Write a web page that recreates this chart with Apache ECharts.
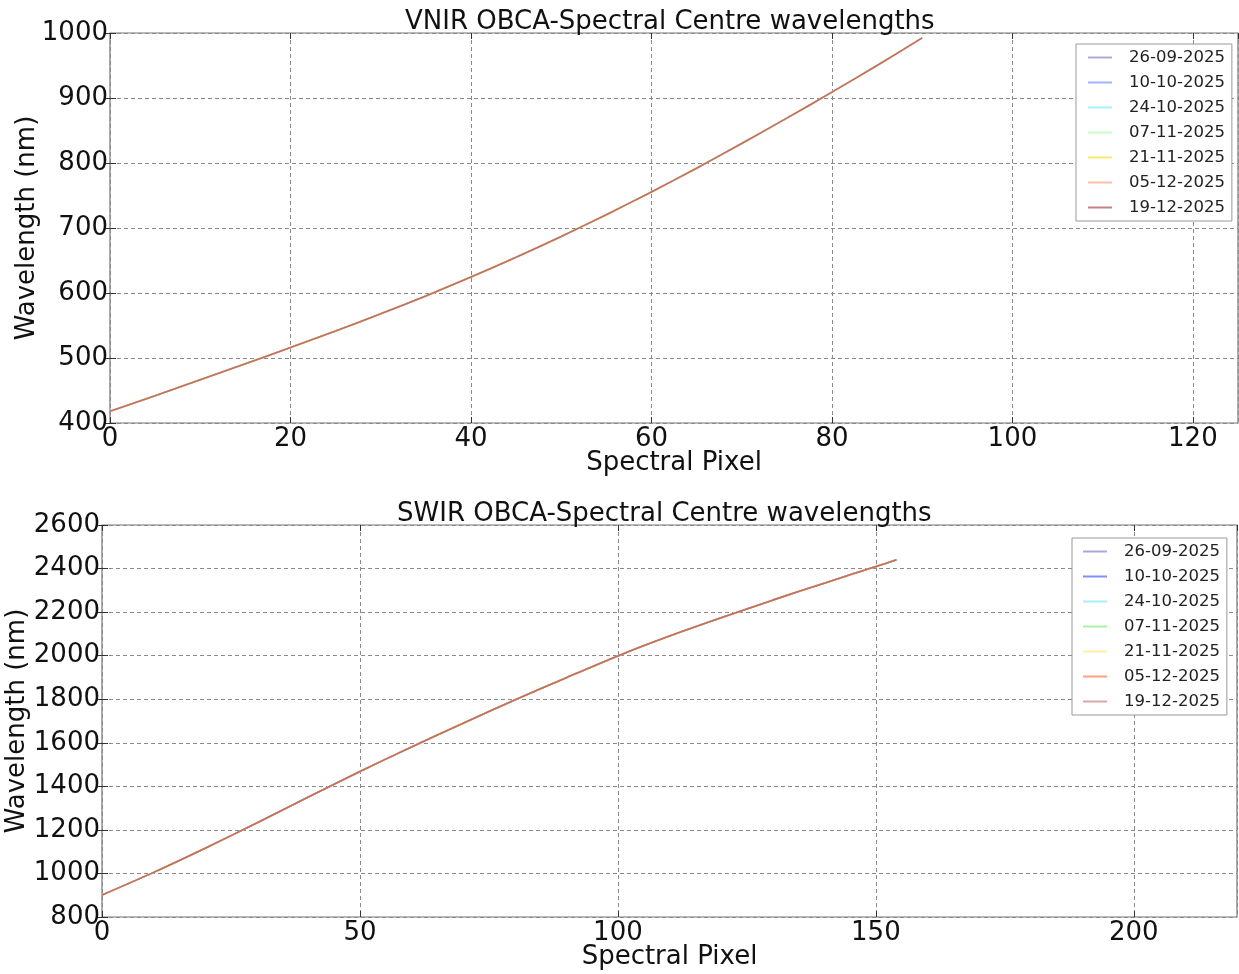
<!DOCTYPE html>
<html>
<head>
<meta charset="utf-8">
<script src="https://cdn.jsdelivr.net/npm/echarts@6/dist/echarts.min.js"></script>
<style>
html,body{margin:0;padding:0;background:#fff;}
#chart{width:1239px;height:974px;}
</style>
</head>
<body>
<div id="chart"></div>
<script>
// ---- data ----
var dates = ['26-09-2025','10-10-2025','24-10-2025','07-11-2025','21-11-2025','05-12-2025','19-12-2025'];
var vnirColors = ['#a9a9d9','#a3b3ff','#a6f0ff','#c4ffc4','#ffe870','#ffc2a8','#c08080'];
var swirColors = ['#a9a9d9','#7f8fff','#a6f0ff','#a6f2a6','#fff0a0','#ff9f7f','#d8a8a8'];
var vnirPixel = [0,5,10,15,20,25,30,35,40,45,50,55,60,65,70,75,80,85,90];
var vnirWavelength = [418,442,466.5,491,516,541.5,568,595.5,624.5,655,687,720.5,755.5,792,830,869,909,950,992.5];
var swirPixel = [0,10,20,30,40,50,60,70,80,90,100,110,120,130,140,150,154];
var swirWavelength = [901,1005,1116,1232,1351,1468,1581,1690,1796,1899,1999,2090,2174,2255,2333,2409,2440];
var vnirTicks = {xMin:0, xMax:125, xStep:20, yMin:400, yMax:1000, yStep:100};
var swirTicks = {xMin:0, xMax:220, xStep:50, yMin:800, yMax:2600, yStep:200};
var curveColor = '#c0705c';

var FONT = 'DejaVu Sans';

function pairs(xs, ys){ return xs.map(function(x,i){ return [x, ys[i]]; }); }
function plain(v){ return String(v); }

function makeX(idx, t, pos){
  return {
    type:'value', gridIndex: idx, position: pos,
    min:t.xMin, max:t.xMax, interval:t.xStep,
    name: pos === 'bottom' ? 'Spectral Pixel' : '',
    nameLocation:'middle', nameGap: 27, nameMoveOverlap:false,
    nameTextStyle:{fontFamily:FONT, fontSize:26, color:'#111'},
    axisLine:{show:false},
    axisTick:{show:true, inside:true, length:6, lineStyle:{color:'#333'}},
    axisLabel:{show: pos === 'bottom', fontFamily:FONT, fontSize:26, color:'#111', margin:3, showMaxLabel:false, formatter:plain},
    splitLine:{show: pos === 'bottom', lineStyle:{color:'#8a8a8a', type:[4,3], width:1}}
  };
}
function makeY(idx, t, pos, gap){
  return {
    type:'value', gridIndex: idx, position: pos,
    min:t.yMin, max:t.yMax, interval:t.yStep,
    name: pos === 'left' ? 'Wavelength (nm)' : '',
    nameLocation:'middle', nameGap: gap, nameMoveOverlap:false,
    nameTextStyle:{fontFamily:FONT, fontSize:26, color:'#111'},
    axisLine:{show:false},
    axisTick:{show:true, inside:true, length:6, lineStyle:{color:'#333'}},
    axisLabel:{show: pos === 'left', fontFamily:FONT, fontSize:26, color:'#111', margin:2, formatter:plain},
    splitLine:{show: pos === 'left', lineStyle:{color:'#8a8a8a', type:[4,3], width:1}}
  };
}
function makeLegend(left, top, padLeft, colors){
  return {
    orient:'vertical', left:left, top:top,
    icon:'rect', itemWidth:24, itemHeight:2, itemGap:0,
    padding:[1,7,1,padLeft],
    borderColor:'#999', borderWidth:1, backgroundColor:'#fff',
    textStyle:{fontFamily:FONT, fontSize:16.5, color:'#222', lineHeight:25, padding:[0,0,0,12]},
    data: dates.map(function(d,i){ return {name:d, itemStyle:{color:colors[i]}}; })
  };
}

var series = [];
dates.forEach(function(d,i){
  series.push({
    name:d, type:'line', xAxisIndex:0, yAxisIndex:0,
    data: pairs(vnirPixel, vnirWavelength),
    symbol:'none', smooth:0.3, silent:true,
    color: vnirColors[i],
    lineStyle:{width:1.6, color: i === dates.length-1 ? curveColor : vnirColors[i]},
    z: 3 + i
  });
});
dates.forEach(function(d,i){
  series.push({
    name:d, type:'line', xAxisIndex:2, yAxisIndex:2,
    data: pairs(swirPixel, swirWavelength),
    symbol:'none', smooth:0.3, silent:true,
    color: swirColors[i],
    lineStyle:{width:1.6, color: i === dates.length-1 ? curveColor : swirColors[i]},
    z: 3 + i
  });
});

var option = {
  animation:false,
  backgroundColor:'#fff',
  title:[
    {text:'VNIR OBCA-Spectral Centre wavelengths', left:400, top:4,
     textStyle:{fontFamily:FONT, fontSize:26, fontWeight:'normal', color:'#111'}},
    {text:'SWIR OBCA-Spectral Centre wavelengths', left:392, top:496,
     textStyle:{fontFamily:FONT, fontSize:26, fontWeight:'normal', color:'#111'}}
  ],
  grid:[
    {left:110, top:33, width:1128, height:390, show:true, borderColor:'#777', borderWidth:1.2, backgroundColor:'transparent', containLabel:false, outerBoundsMode:'none'},
    {left:102, top:525, width:1135, height:392, show:true, borderColor:'#777', borderWidth:1.2, backgroundColor:'transparent', containLabel:false, outerBoundsMode:'none'}
  ],
  xAxis:[ makeX(0, vnirTicks, 'bottom'), makeX(0, vnirTicks, 'top'), makeX(1, swirTicks, 'bottom'), makeX(1, swirTicks, 'top') ],
  yAxis:[ makeY(0, vnirTicks, 'left', 70), makeY(0, vnirTicks, 'right', 0), makeY(1, swirTicks, 'left', 72), makeY(1, swirTicks, 'right', 0) ],
  legend:[ makeLegend(1076, 44, 12, vnirColors), makeLegend(1072, 538, 11, swirColors) ],
  series: series
};

var chart = echarts.init(document.getElementById('chart'), null, {renderer:'canvas'});
chart.setOption(option);
</script>
</body>
</html>
